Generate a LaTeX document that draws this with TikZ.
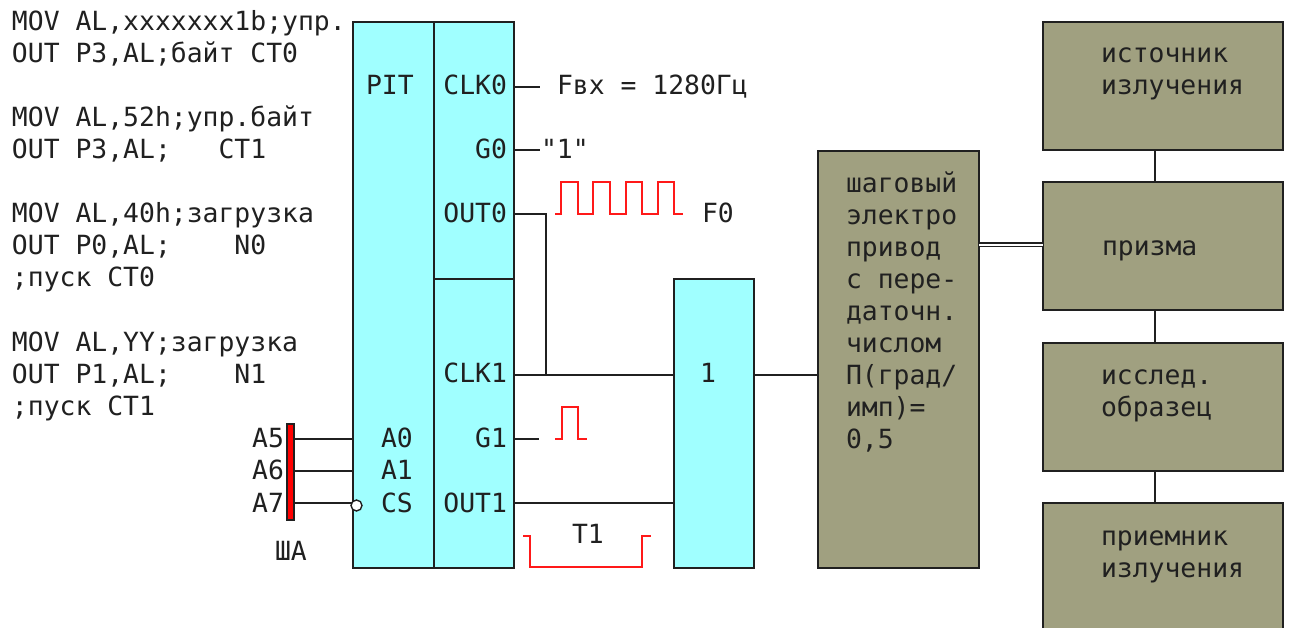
\documentclass[tikz,border=0pt]{standalone}
\usepackage{fontspec}
\setmonofont{DejaVu Sans Mono}
\usetikzlibrary{positioning}
\definecolor{pitcyan}{HTML}{A0FFFF}
\definecolor{olivebox}{HTML}{A0A080}
\definecolor{inkgray}{HTML}{202020}

\begin{document}
\begin{tikzpicture}[
  x=1pt, y=-1pt,
  block/.style={rectangle, draw=inkgray, line width=1.9pt, inner sep=0pt, outer sep=0pt, anchor=north west},
  cyanbox/.style={block, fill=pitcyan},
  olive/.style={block, fill=olivebox},
  txt/.style={inner sep=0pt, outer sep=0pt, anchor=base west, text=inkgray, align=left,
              font=\ttfamily\fontsize{26.4}{32}\selectfont},
  pinlabel/.style={txt, anchor=base east},
  wire/.style={draw=inkgray, line width=1.7pt},
  pulse/.style={draw=red!90!white, line width=1.6pt}
]

\clip (0,0) rectangle (1291,628);
\fill[white] (0,0) rectangle (1291,628);

% Program text
\node[txt] (code1) at (12,63)  {MOV AL,xxxxxxx1b;упр.\\OUT P3,AL;байт CT0};
\node[txt] (code2) at (12,159) {MOV AL,52h;упр.байт\\OUT P3,AL;~~~CT1};
\node[txt] (code3) at (12,287) {MOV AL,40h;загрузка\\OUT P0,AL;~~~~N0\\;пуск CT0};
\node[txt] (code4) at (12,415) {MOV AL,YY;загрузка\\OUT P1,AL;~~~~N1\\;пуск CT1};

% PIT
\node[cyanbox, minimum width=81pt, minimum height=546pt] (pit) at (353,22) {};
\node[cyanbox, minimum width=80pt, minimum height=257pt, right=0pt of pit.north east, anchor=north west] (ct0) {};
\node[cyanbox, minimum width=80pt, minimum height=289pt, below=0pt of ct0.south west, anchor=north west] (ct1) {};

\node[txt] (pitname) at (366,95) {PIT};
\node[txt] (a0) at (381,447) {A0};
\node[txt] (a1) at (381,479) {A1};
\node[txt] (cs) at (381,512) {CS};
\node[pinlabel] (clk0) at (507,95)  {CLK0};
\node[pinlabel] (g0)   at (507,159) {G0};
\node[pinlabel] (out0) at (507,223) {OUT0};
\node[pinlabel] (clk1) at (507,383) {CLK1};
\node[pinlabel] (g1)   at (507,447) {G1};
\node[pinlabel] (out1) at (507,512) {OUT1};

% Address bus
\node[block, fill=red, line width=1.6pt, minimum width=7pt, minimum height=96pt] (bus) at (287,424) {};
\node[pinlabel] (a5) at (284,447) {A5};
\node[pinlabel] (a6) at (284,479) {A6};
\node[pinlabel] (a7) at (284,512) {A7};
\node[txt] (busname) at (275,560) {ША};

% Gate, drive and optics
\node[cyanbox, minimum width=80pt, minimum height=289pt] (gate) at (674,279) {};
\node[olive, minimum width=161pt, minimum height=417pt] (drive) at (818,151) {};
\node[olive, minimum width=240pt, minimum height=128pt] (source) at (1043,22) {};
\node[olive, minimum width=240pt, minimum height=128pt, below=32pt of source.south west, anchor=north west] (prism) {};
\node[olive, minimum width=240pt, minimum height=128pt, below=33pt of prism.south west, anchor=north west] (sample) {};
\node[olive, minimum width=240pt, minimum height=140pt, below=32pt of sample.south west, anchor=north west] (receiver) {};

\node[txt] (gatename) at (700,383) {1};
\node[txt] (drivetext) at (846,448) {шаговый\\электро\\привод\\с пере-\\даточн.\\числом\\П(град/\\имп)=\\0,5};
\node[txt] (sourcetext) at (1101,95) {источник\\излучения};
\node[txt] (prismtext) at (1102,256) {призма};
\node[txt] (sampletext) at (1101,416) {исслед.\\образец};
\node[txt] (receivertext) at (1101,577) {приемник\\излучения};

% Free ends and pins
\coordinate (clk0end) at (540,87);
\coordinate (g0end) at (540,150);
\coordinate (g1end) at (539,439);
\coordinate (join) at (546,375);

% Connectors
\draw[wire] (ct0.east |- clk0end) -- (clk0end);
\draw[wire] (ct0.east |- g0end) -- (g0end);
\draw[wire] (ct0.east |- 0,214) -| (join);
\draw[wire] (ct1.east |- join) -- (gate.west |- join);
\draw[wire] (ct1.east |- g1end) -- (g1end);
\draw[wire] (ct1.east |- 0,503) -- (gate.west |- 0,503);
\draw[wire] (gate.east |- join) -- (drive.west |- join);
\draw[wire] (bus.east |- 0,439) -- (pit.west |- 0,439);
\draw[wire] (bus.east |- 0,471) -- (pit.west |- 0,471);
\draw[wire] (bus.east |- 0,503) -- (pit.west |- 0,503);
\draw[draw=inkgray, line width=1.2pt, double=white, double distance=2.6pt] (drive.east |- 0,245) -- (prism.west |- 0,245);
\draw[wire] (source.south -| 1155,0) -- (prism.north -| 1155,0);
\draw[wire] (prism.south -| 1155,0) -- (sample.north -| 1155,0);
\draw[wire] (sample.south -| 1155,0) -- (receiver.north -| 1155,0);

% Inverted input
\node[circle, draw=inkgray, fill=white, line width=1.4pt, minimum size=11pt, inner sep=0pt] (csdot) at (356.5,505.5) {};

% Pulses
\draw[pulse] (555,214) -- (561,214) -- (561,182) -- (578,182) -- (578,214) -- (593,214) -- (593,182) -- (610,182)
  -- (610,214) -- (626,214) -- (626,182) -- (642,182) -- (642,214) -- (658,214) -- (658,182) -- (674,182) -- (674,214) -- (683,214);
\draw[pulse] (555,439) -- (562,439) -- (562,407) -- (578,407) -- (578,439) -- (587,439);
\draw[pulse] (523,536) -- (530,536) -- (530,567) -- (642,567) -- (642,536) -- (651,536);

% Signal labels
\node[txt] (fin) at (557,95) {Fвх = 1280Гц};
\node[txt] (one) at (541,159) {"1"};
\node[txt] (f0) at (702,223) {F0};
\node[txt] (t1) at (572,543) {T1};

\end{tikzpicture}
\end{document}
